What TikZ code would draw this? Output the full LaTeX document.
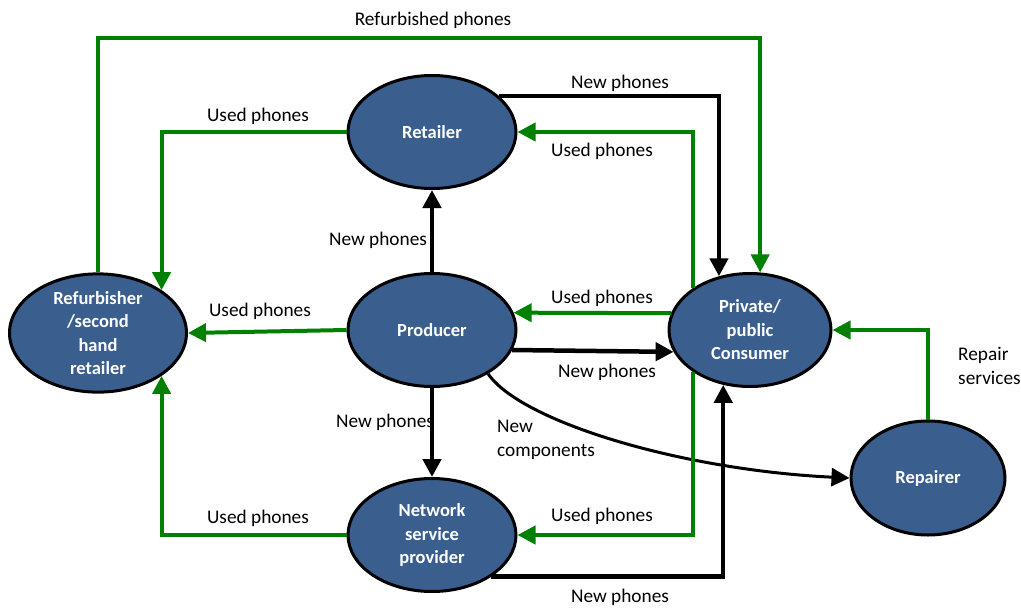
\documentclass[tikz,border=0pt]{standalone}
\usepackage{fontspec}
\setmainfont{Carlito}
\usetikzlibrary{arrows.meta,shapes.geometric,calc}
\definecolor{nodeblue}{RGB}{58,95,143}
\definecolor{flowgreen}{RGB}{0,128,0}
\begin{document}
\begin{tikzpicture}[x=1pt,y=-1pt,
  actor/.style={ellipse,draw=black,line width=3pt,fill=nodeblue,text=white,
    inner sep=0pt,font=\fontsize{18.5}{23.5}\selectfont\bfseries,align=center},
  gflow/.style={draw=flowgreen,line width=4pt,-{Triangle[length=18pt,width=18pt]},color=flowgreen},
  bflow/.style={draw=black,line width=4.5pt,-{Triangle[length=18pt,width=18pt]}},
  lbl/.style={font=\fontsize{19.3}{24}\selectfont,text=black,inner sep=0pt,align=left}]
\useasboundingbox (0,0) rectangle (1021,608);

% nodes
\node[actor,minimum width=168pt,minimum height=113pt] (ret) at (432,132) {Retailer};
\node[actor,minimum width=168pt,minimum height=113pt] (prod) at (432,330) {Producer};
\node[actor,minimum width=168pt,minimum height=113pt] (nsp) at (432,535) {Network\\service\\provider};
\node[actor,minimum width=177pt,minimum height=115pt] (ref) at (98,333) {Refurbisher\\/second\\hand\\retailer};
\node[actor,minimum width=162pt,minimum height=113pt] (con) at (750,330) {Private/\\public\\Consumer};
\node[actor,minimum width=154pt,minimum height=114pt] (rep) at (928,478) {Repairer};

\coordinate (ytop) at (0,38);

% connectors
\draw[gflow] (ref.north) -- (ref.north |- ytop) -| (con.80);
\draw[gflow] (ret.west) -| (ref.34);
\draw[bflow] (ret.28) -| (con.120);
\draw[gflow] (con.144) |- (ret.east);
\draw[bflow] (prod.north) -- (ret.south);
\draw[gflow] (prod.west) -- (ref.east);
\draw[gflow] (con.168) -- (prod.12);
\draw[bflow] (prod.-14) -- (con.196);
\draw[bflow] (prod.south) -- (nsp.north);
\draw[bflow,line width=3pt] (prod.-38) .. controls +(33,48) and +(-168,-8) .. (rep.west);
\draw[gflow] (nsp.west) -| (ref.-34);
\draw[gflow] (con.216) |- (nsp.east);
\draw[bflow] (nsp.-35) -| (con.244);
\draw[gflow] (rep.north) |- (con.east);

% labels
\node[lbl] (l1) at (433,20) {Refurbished phones};
\node[lbl] (l2) at (258,116) {Used phones};
\node[lbl] (l3) at (620,83) {New phones};
\node[lbl] (l4) at (602,151) {Used phones};
\node[lbl] (l5) at (378,240) {New phones};
\node[lbl] (l6) at (260,311) {Used phones};
\node[lbl] (l7) at (602,298) {Used phones};
\node[lbl] (l8) at (607,372) {New phones};
\node[lbl] (l9) at (385,422) {New phones};
\node[lbl,anchor=west] (l10) at (497,440) {New\\components};
\node[lbl] (l11) at (258,518) {Used phones};
\node[lbl] (l12) at (602,516) {Used phones};
\node[lbl] (l13) at (620,597) {New phones};
\node[lbl,anchor=west] (l14) at (958,366) {Repair\\services};
\end{tikzpicture}
\end{document}
